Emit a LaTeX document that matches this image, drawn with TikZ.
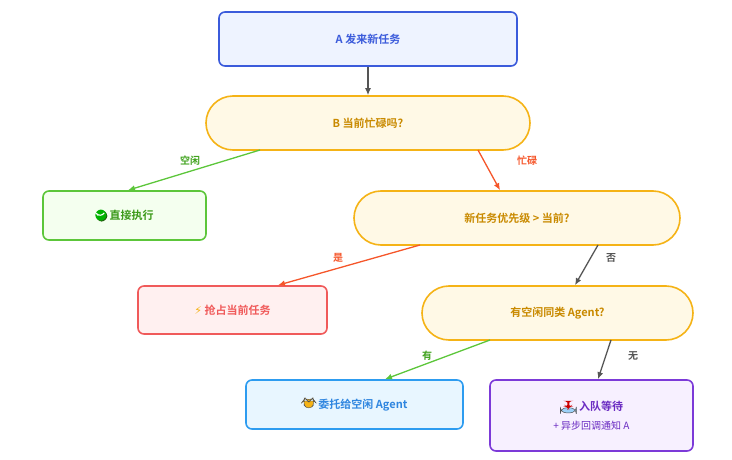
\documentclass[tikz,border=0pt]{standalone}
\usepackage{fontspec}
\setmainfont{Noto Sans CJK SC}[BoldFont={Noto Sans CJK SC Bold}]
\newfontfamily\symfont{DejaVu Sans}
\usetikzlibrary{arrows.meta,positioning}
\definecolor{blueA}{HTML}{3B5BDB}
\definecolor{blueAf}{HTML}{EEF3FF}
\definecolor{ambr}{HTML}{F5B316}
\definecolor{ambrf}{HTML}{FFF9E6}
\definecolor{ambrt}{HTML}{C98A00}
\definecolor{grn}{HTML}{5CC63A}
\definecolor{grnf}{HTML}{F4FFEF}
\definecolor{grnt}{HTML}{3C9A1A}
\definecolor{rd}{HTML}{F05A5A}
\definecolor{rdf}{HTML}{FFF0F0}
\definecolor{orn}{HTML}{F5562A}
\definecolor{sky}{HTML}{2D9CF0}
\definecolor{skyf}{HTML}{E8F6FF}
\definecolor{skyt}{HTML}{2F86E0}
\definecolor{prp}{HTML}{7C3AD8}
\definecolor{prpf}{HTML}{F7F0FF}
\definecolor{prpt}{HTML}{6A2BC2}
\definecolor{gry}{HTML}{555555}
\tikzset{
  box/.style={draw,line width=1.6pt,rounded corners=6pt,font=\bfseries\fontsize{11}{13}\selectfont,align=center,inner sep=0pt},
  pill/.style={box,draw=ambr,fill=ambrf,text=ambrt,rounded corners=27pt,minimum height=54pt},
  link/.style={line width=1.3pt,-{Latex[length=7pt,width=6pt]}},
  lbl/.style={font=\bfseries\fontsize{10}{12}\selectfont}
}
\begin{document}
\begin{tikzpicture}[x=1pt,y=-1pt]
  \useasboundingbox (0,0) rectangle (732,460);
  % nodes
  \node[box,draw=blueA,fill=blueAf,text=blueA,minimum width=298pt,minimum height=54pt] (send) at (368,39) {A 发来新任务};
  \node[pill,minimum width=324pt] (busy) at (368,123) {B 当前忙碌吗?};
  \node[box,draw=grn,fill=grnf,text=grnt,minimum width=163pt,minimum height=49pt] (run) at (124.5,215.5)
    {\tikz[baseline=-3.5pt]{\fill[grnt!60!black] (-5.2,-5.2) rectangle (6,6);\fill[green!70!black] (-6,-6) rectangle (5.2,5.2);\draw[white,line width=1.1pt] (-3,0)--(-0.8,2.4)--(3,-2.6);}\ 直接执行};
  \node[pill,minimum width=326pt] (prio) at (517,218) {新任务优先级 > 当前?};
  \node[box,draw=rd,fill=rdf,text=rd,minimum width=189pt,minimum height=48pt] (grab) at (232.5,310)
    {{\symfont\color{ambr}⚡}\ 抢占当前任务};
  \node[pill,minimum width=271pt] (idle) at (557.5,313) {有空闲同类 Agent?};
  \node[box,draw=sky,fill=skyf,text=skyt,minimum width=217pt,minimum height=49pt] (hand) at (354.5,404.5)
    {\tikz[baseline=-3.5pt]{\fill[ambr,draw=black!70,line width=0.4pt] (-7,-2)--(-4,-6)--(0,-3)--(4,-6)--(7,-2)--(0,6)--cycle;}\ 委托给空闲 Agent};
  \node[box,draw=prp,fill=prpf,text=prpt,minimum width=203pt,minimum height=71pt] (wait) at (591.5,415.5)
    {\tikz[baseline=-3.5pt]{\fill[skyf!60!sky,draw=black!70,line width=0.5pt] (-8,6) rectangle (8,1);\fill[red!80!black] (-1,-6) rectangle (1,0);\fill[red!80!black] (-3,-1)--(3,-1)--(0,2)--cycle;}\ 入队等待\\[6pt]
     {\normalfont\fontsize{10}{12}\selectfont + 异步回调通知 A}};
  % connectors
  \draw[link,gry] (send) -- (busy);
  \draw[link,grn] (260,150) coordinate (b1) -- (run.north -| 128,0);
  \node[lbl,text=grnt!80!grn] (l1) at (190,161) {空闲};
  \draw[link,orn] (478,150) -- (prio.north -| 500,0);
  \node[lbl,text=orn] (l2) at (527,161) {忙碌};
  \draw[link,orn] (420,245) -- (grab.north -| 278,0);
  \node[lbl,text=orn] (l3) at (338,258) {是};
  \draw[link,gry] (598,245) -- (idle.north -| 575,0);
  \node[lbl,text=gry] (l4) at (611,258) {否};
  \draw[link,grn] (490,340) -- (hand.north -| 385,0);
  \node[lbl,text=grnt!80!grn] (l5) at (427,356) {有};
  \draw[link,gry] (611,340) -- (wait.north -| 598,0);
  \node[lbl,text=gry] (l6) at (633,356) {无};
\end{tikzpicture}
\end{document}
